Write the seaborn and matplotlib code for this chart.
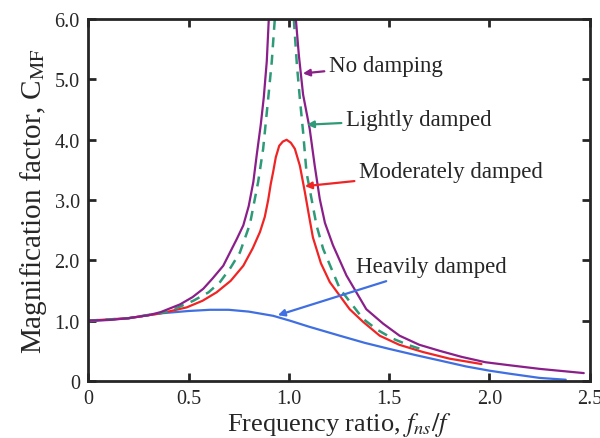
import numpy as np
import matplotlib
matplotlib.use("Agg")
import matplotlib.pyplot as plt
import seaborn as sns

# values (frequency ratio vs magnification factor)
none_left_x = [0, 0.1, 0.2, 0.3, 0.36, 0.458, 0.52, 0.574, 0.62, 0.673, 0.74, 0.773,
               0.80, 0.823, 0.84, 0.86, 0.875, 0.89, 0.90]
none_left_y = [1.0, 1.01, 1.04, 1.09, 1.14, 1.27, 1.39, 1.53, 1.7, 1.91, 2.35, 2.58,
               2.9, 3.3, 3.75, 4.25, 4.7, 5.3, 6.0]
none_right_x = [1.035, 1.05, 1.071, 1.104, 1.129, 1.154, 1.18, 1.22, 1.287, 1.386, 1.47,
                1.552, 1.65, 1.751, 1.86, 1.98, 2.1, 2.25, 2.47]
none_right_y = [6.0, 5.4, 4.75, 4.18, 3.57, 3.02, 2.62, 2.25, 1.75, 1.19, 0.95,
                0.75, 0.6, 0.5, 0.4, 0.31, 0.26, 0.2, 0.13]

light_left_x = [0, 0.2, 0.4, 0.524, 0.6, 0.657, 0.71, 0.756, 0.806, 0.847, 0.872, 0.897, 0.915, 0.93]
light_left_y = [1.0, 1.04, 1.15, 1.33, 1.47, 1.64, 1.88, 2.13, 2.6, 3.3, 3.85, 4.68, 5.3, 6.0]
light_right_x = [1.025, 1.04, 1.055, 1.071, 1.088, 1.113, 1.138, 1.171, 1.254, 1.37, 1.44, 1.519, 1.6, 1.685]
light_right_y = [6.0, 5.25, 4.68, 4.13, 3.46, 3.02, 2.58, 2.19, 1.53, 1.03, 0.85, 0.70, 0.59, 0.50]

mod_x = [0, 0.2, 0.36, 0.491, 0.57, 0.64, 0.71, 0.773, 0.82, 0.856, 0.88, 0.897, 0.91,
         0.922, 0.935, 0.952, 0.97, 0.989, 1.01, 1.03, 1.055, 1.08, 1.10, 1.12, 1.16,
         1.204, 1.303, 1.37, 1.453, 1.55, 1.668, 1.8, 1.96]
mod_y = [1.0, 1.04, 1.12, 1.22, 1.33, 1.47, 1.66, 1.91, 2.2, 2.47, 2.72, 3.0, 3.27,
         3.47, 3.71, 3.90, 3.97, 4.0, 3.95, 3.85, 3.57, 3.13, 2.75, 2.38, 1.95,
         1.64, 1.19, 0.98, 0.75, 0.6, 0.48, 0.37, 0.28]

heavy_x = [0, 0.2, 0.358, 0.5, 0.607, 0.7, 0.8, 0.922, 1.005, 1.1, 1.254, 1.38, 1.502,
           1.63, 1.751, 1.884, 2.0, 2.1, 2.25, 2.38]
heavy_y = [0.99, 1.04, 1.12, 1.16, 1.18, 1.18, 1.15, 1.08, 1.0, 0.9, 0.75, 0.63, 0.53,
           0.43, 0.34, 0.24, 0.17, 0.12, 0.05, 0.02]

x_ticks = [0, 0.5, 1.0, 1.5, 2.0, 2.5]
x_labels = ["0", "0.5", "1.0", "1.5", "2.0", "2.5"]
y_ticks = [0, 1, 2, 3, 4, 5, 6]
y_labels = ["0", "1.0", "2.0", "3.0", "4.0", "5.0", "6.0"]

purple = "#8a1f8a"
green = "#2e9a78"
red = "#f02424"
blue = "#3f6fe0"

sns.set_style("ticks")
plt.rcParams["font.family"] = ["Liberation Serif", "DejaVu Serif"]
plt.rcParams["mathtext.fontset"] = "stix"

fig = plt.figure(figsize=(6, 4.39), dpi=100)
ax = fig.add_axes([0.147, 0.130, 0.836, 0.824])

sns.lineplot(x=heavy_x, y=heavy_y, ax=ax, color=blue, lw=1.6, sort=False, estimator=None)
sns.lineplot(x=mod_x, y=mod_y, ax=ax, color=red, lw=1.6, sort=False, estimator=None)
for xs, ys in [(light_left_x, light_left_y), (light_right_x, light_right_y)]:
    sns.lineplot(x=xs, y=ys, ax=ax, color=green, lw=1.8, sort=False, estimator=None,
                 linestyle=(0, (4, 3)))
for xs, ys in [(none_left_x, none_left_y), (none_right_x, none_right_y)]:
    sns.lineplot(x=xs, y=ys, ax=ax, color=purple, lw=1.6, sort=False, estimator=None)

ax.set_xlim(0, 2.5)
ax.set_ylim(0, 6)
ax.set_xticks(x_ticks)
ax.set_xticklabels(x_labels)
ax.set_yticks(y_ticks)
ax.set_yticklabels(y_labels)
ax.tick_params(direction="in", top=True, right=True, length=6, width=2, labelsize=14.5, pad=6)
for s in ax.spines.values():
    s.set_linewidth(2)
    s.set_visible(True)

ax.set_xlabel("Frequency ratio, $f_{ns}/f$", fontsize=19, labelpad=1)
ax.set_ylabel("Magnification factor, C$_{\\mathrm{MF}}$", fontsize=21, labelpad=4)

notes = [("No damping", (1.07, 5.1), (1.20, 5.24), purple),
         ("Lightly damped", (1.09, 4.25), (1.285, 4.34), green),
         ("Moderately damped", (1.08, 3.23), (1.35, 3.48), red),
         ("Heavily damped", (0.945, 1.09), (1.335, 1.89), blue)]
for txt, tip, pos, col in notes:
    ax.annotate(txt, xy=tip, xytext=pos, fontsize=16.5, va="center", ha="left",
                arrowprops=dict(arrowstyle="-|>", color=col, lw=1.6, mutation_scale=10,
                                shrinkA=1, shrinkB=0))

fig.savefig("out.png", dpi=100)
